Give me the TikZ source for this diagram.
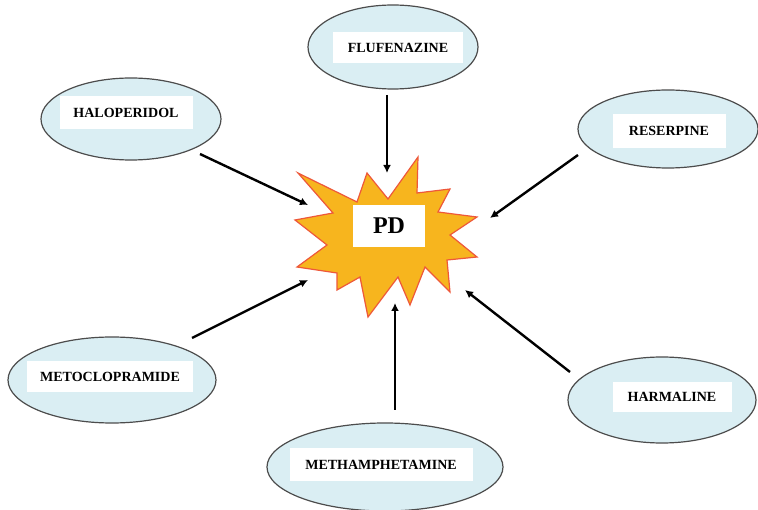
\documentclass[tikz,border=0pt]{standalone}
\usepackage{fontspec}
\setmainfont{Liberation Serif}
\usetikzlibrary{shapes.geometric, arrows.meta}

\definecolor{drugblue}{RGB}{218,238,243}
\definecolor{burstfill}{RGB}{247,181,30}
\definecolor{burstedge}{RGB}{238,88,58}

\tikzset{
	drug/.style = {ellipse, draw = black!70, fill = drugblue, line width = 1.2pt, inner sep = 0pt},
	tag/.style = {fill = white, inner sep = 0pt, font = \fontsize{14}{14}\selectfont\bfseries},
	arr/.style = {->, > = {Latex[length = 8pt, width = 8pt]}, line width = 2.4pt}
}

\begin{document}
\begin{tikzpicture}[x = 1pt, y = -1pt]
	\useasboundingbox[fill = white] (0,0) rectangle (758,510);
	% the burst in the middle
	\draw[fill = burstfill, draw = burstedge, line width = 1.2pt]
		(367,173) -- (388,199) -- (418,157) -- (417,193) -- (450,189) -- (438,212)
		-- (477,217) -- (450,235) -- (477,257) -- (447,260) -- (450,292) -- (425,267)
		-- (410,305) -- (398,277) -- (368,317) -- (360,277) -- (337,290) -- (337,273)
		-- (297,267) -- (327,245) -- (295,220) -- (333,213) -- (298,173) -- (357,202) -- cycle;
	\node[fill = white, inner sep = 0pt, minimum width = 72pt, minimum height = 42pt, font = \fontsize{24}{24}\selectfont\bfseries] (pd) at (389,226) {PD};
	% the drugs
	\node[drug, minimum width = 170pt, minimum height = 84pt] (flu) at (393,47) {};
	\node[tag, minimum width = 130pt, minimum height = 31pt] (flu-t) at (398,48) {FLUFENAZINE};
	\node[drug, minimum width = 180pt, minimum height = 82pt] (halo) at (131,119) {};
	\node[tag, minimum width = 133pt, minimum height = 33pt] (halo-t) at (126,113) {HALOPERIDOL};
	\node[drug, minimum width = 180pt, minimum height = 78pt] (res) at (668,129) {};
	\node[tag, minimum width = 113pt, minimum height = 34pt] (res-t) at (669,131) {RESERPINE};
	\node[drug, minimum width = 208pt, minimum height = 86pt] (meto) at (112,380) {};
	\node[tag, minimum width = 166pt, minimum height = 31pt] (meto-t) at (110,377) {METOCLOPRAMIDE};
	\node[drug, minimum width = 236pt, minimum height = 88pt] (meth) at (385,467) {};
	\node[tag, minimum width = 183pt, minimum height = 33pt] (meth-t) at (381,465) {METHAMPHETAMINE};
	\node[drug, minimum width = 188pt, minimum height = 86pt] (harm) at (662,400) {};
	\node[tag, minimum width = 119pt, minimum height = 30pt] (harm-t) at (672,397) {HARMALINE};
	% arrow ends
	\coordinate (halo-a) at (200,154);	\coordinate (halo-b) at (308,205);
	\coordinate (flu-a) at (387,95);	\coordinate (flu-b) at (387,173);
	\coordinate (res-a) at (578,155);	\coordinate (res-b) at (490,218);
	\coordinate (meto-a) at (192,338);	\coordinate (meto-b) at (308,280);
	\coordinate (meth-a) at (395,410);	\coordinate (meth-b) at (395,303);
	\coordinate (harm-a) at (570,372);	\coordinate (harm-b) at (465,290);
	\foreach \n in {halo, flu, res, meto, meth, harm}
	\draw[arr] (\n-a) -- (\n-b);
\end{tikzpicture}
\end{document}
